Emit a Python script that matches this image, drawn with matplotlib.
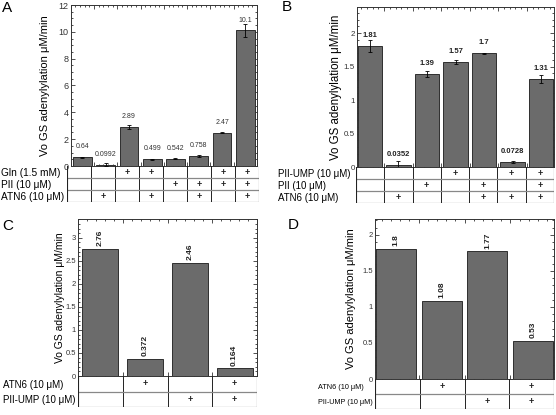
import matplotlib
matplotlib.use("Agg")
import matplotlib.pyplot as plt
from matplotlib.ticker import FixedLocator, MultipleLocator, FuncFormatter
import numpy as np

plt.rcParams['font.family'] = ['Liberation Sans', 'DejaVu Sans']

# ---- data ----
ylabel = 'Vo GS adenylylation \u03bcM/min'

# panel A
a_vals = [0.64, 0.0992, 2.89, 0.499, 0.542, 0.758, 2.47, 10.1]
a_err = [0.04, 0.1, 0.15, 0.04, 0.04, 0.06, 0.03, 0.5]
a_text = ['0.64', '0.0992', '2.89', '0.499', '0.542', '0.758', '2.47', '10.1']
a_rows = ['Gln (1.5 mM)', 'PII (10 \u03bcM)', 'ATN6 (10 \u03bcM)']
a_table = [[0, 0, 1, 1, 0, 0, 1, 1],
           [0, 0, 0, 0, 1, 1, 1, 1],
           [0, 1, 0, 1, 0, 1, 0, 1]]

# panel B
b_vals = [1.81, 0.0352, 1.39, 1.57, 1.7, 0.0728, 1.31]
b_err = [0.085, 0.05, 0.04, 0.03, 0.01, 0.01, 0.06]
b_text = ['1.81', '0.0352', '1.39', '1.57', '1.7', '0.0728', '1.31']
b_rows = ['PII-UMP (10 \u03bcM)', 'PII (10 \u03bcM)', 'ATN6 (10 \u03bcM)']
b_table = [[0, 0, 0, 1, 0, 1, 1],
           [0, 0, 1, 0, 1, 0, 1],
           [0, 1, 0, 0, 1, 1, 1]]

# panel C
c_vals = [2.76, 0.372, 2.46, 0.164]
c_text = ['2.76', '0.372', '2.46', '0.164']
c_rows = ['ATN6 (10 \u03bcM)', 'PII-UMP (10 \u03bcM)']
c_table = [[0, 1, 0, 1],
           [0, 0, 1, 1]]

# panel D
d_vals = [1.8, 1.08, 1.77, 0.53]
d_text = ['1.8', '1.08', '1.77', '0.53']
d_rows = ['ATN6 (10 \u03bcM)', 'PII-UMP (10 \u03bcM)']
d_table = [[0, 1, 0, 1],
           [0, 0, 1, 1]]

W, H = 556, 415
BAR = '#6b6b6b'
EDGE = '#2e2e2e'

fig = plt.figure(figsize=(W / 100, H / 100), dpi=100)


def box(x0, y0, x1, y1):
    # pixel box (top-left origin) -> figure fraction
    return [x0 / W, 1 - y1 / H, (x1 - x0) / W, (y1 - y0) / H]


def panel(letter, letter_xy, axbox, tbox, vals, err, texts, ylim, ymaj, ymin,
          xlim, width, rows, table, rowlab_x, ylab_x, style,
          tick_fs, ylab_fs, row_fs):
    n = len(vals)
    x = np.arange(n)
    ax = fig.add_axes(box(*axbox))
    ax.bar(x, vals, width, color=BAR, edgecolor=EDGE, lw=0.7, zorder=2)
    if err is not None:
        ax.errorbar(x, vals, yerr=err, fmt='none', ecolor='black',
                    elinewidth=0.6, capsize=1.5, capthick=0.6, zorder=3)
    ax.set_xlim(*xlim)
    ax.set_ylim(*ylim)
    ax.xaxis.set_major_locator(FixedLocator(np.arange(-0.5, n, 1)))
    ax.xaxis.set_minor_locator(FixedLocator(np.arange(-0.5, n - 0.4, 0.2)))
    ax.yaxis.set_major_locator(MultipleLocator(ymaj))
    ax.yaxis.set_minor_locator(MultipleLocator(ymin))
    ax.yaxis.set_major_formatter(FuncFormatter(lambda v, p: '%g' % round(v, 3)))
    ax.tick_params(which='both', direction='in', top=True, right=True,
                   labelbottom=False, labelsize=tick_fs, pad=1.5, width=0.6,
                   colors='#333333')
    ax.tick_params(which='major', length=3)
    ax.tick_params(which='minor', length=1.5)
    for s in ax.spines.values():
        s.set_linewidth(0.7)
        s.set_color('#333333')
    ax.set_ylabel(ylabel, fontsize=ylab_fs)
    x0, _, x1, _ = axbox
    ax.yaxis.set_label_coords((ylab_x - x0) / (x1 - x0), 0.5)
    # lift the zero label off the table edge
    ax.yaxis.get_major_ticks()[0].label1.set_verticalalignment('baseline')

    # value labels
    for xi, v, t in zip(x, vals, texts):
        if style == 'A':
            ax.annotate(t, (xi, v), xytext=(0, 5), textcoords='offset points',
                        ha='center', va='bottom', fontsize=5, color='#333333')
        elif style == 'B':
            ax.annotate(t, (xi, v), xytext=(0, 5), textcoords='offset points',
                        ha='center', va='bottom', fontsize=5.5,
                        fontweight='bold', color='#222222')
        else:
            ax.annotate(t, (xi, v), xytext=(0, 2), textcoords='offset points',
                        ha='center', va='bottom', fontsize=6, rotation=90,
                        fontweight='bold', color='#222222')

    # condition table underneath
    tx = fig.add_axes(box(*tbox))
    nr = len(rows)
    tx.set_xlim(-0.5, n - 0.5)
    tx.set_ylim(nr, 0)
    tx.axis('off')
    for i in range(1, n):
        tx.plot([i - 0.5, i - 0.5], [0, nr], color='#222222', lw=0.7)
    for r in range(1, nr):
        tx.plot([-0.5, n - 0.5], [r, r], color='#888888', lw=0.9)
    tx.plot([-0.5, -0.5, n - 0.5, n - 0.5], [0, nr, nr, 0], color='#222222',
            lw=0.8)
    for r in range(nr):
        for i in range(n):
            if table[r][i]:
                tx.text(i, r + 0.5, '+', ha='center', va='center', fontsize=6.5,
                        fontweight='bold', color='#222222')
        fig.text(rowlab_x / W, 1 - (tbox[1] + (r + 0.58) * (tbox[3] - tbox[1]) / nr) / H,
                 rows[r], ha='left', va='center', fontsize=row_fs)

    fig.text(letter_xy[0] / W, 1 - letter_xy[1] / H, letter, fontsize=11,
             ha='left', va='top')
    return ax


panel('A', (2, 1), (70.7, 5, 257, 166), (67, 166, 259, 202), a_vals, a_err,
      a_text, (0, 12), 2, 0.5, (-0.5, 7.5), 0.8, a_rows, a_table, 1, 50, 'A',
      6.5, 8, 7.3)
panel('B', (282, 0), (357, 7, 554, 167), (356, 167, 554, 203), b_vals, b_err,
      b_text, (0, 2.39), 0.5, 0.1, (-0.45, 6.45), 0.85, b_rows, b_table, 278,
      342, 'B', 5.8, 8.3, 7)
panel('C', (2, 219), (78, 219, 257, 376), (78, 376, 257, 407), c_vals, None,
      c_text, (0, 3.41), 0.5, 0.1, (-0.5, 3.5), 0.8, c_rows, c_table, 3, 65,
      'C', 5.5, 7.5, 7)
panel('D', (288, 218), (375, 219, 554, 379), (375, 379, 554, 409), d_vals,
      None, d_text, (0, 2.22), 0.5, 0.1, (-0.45, 3.45), 0.87, d_rows, d_table,
      318, 356, 'D', 5.5, 8, 5.2)

fig.savefig('out.png', dpi=100)
